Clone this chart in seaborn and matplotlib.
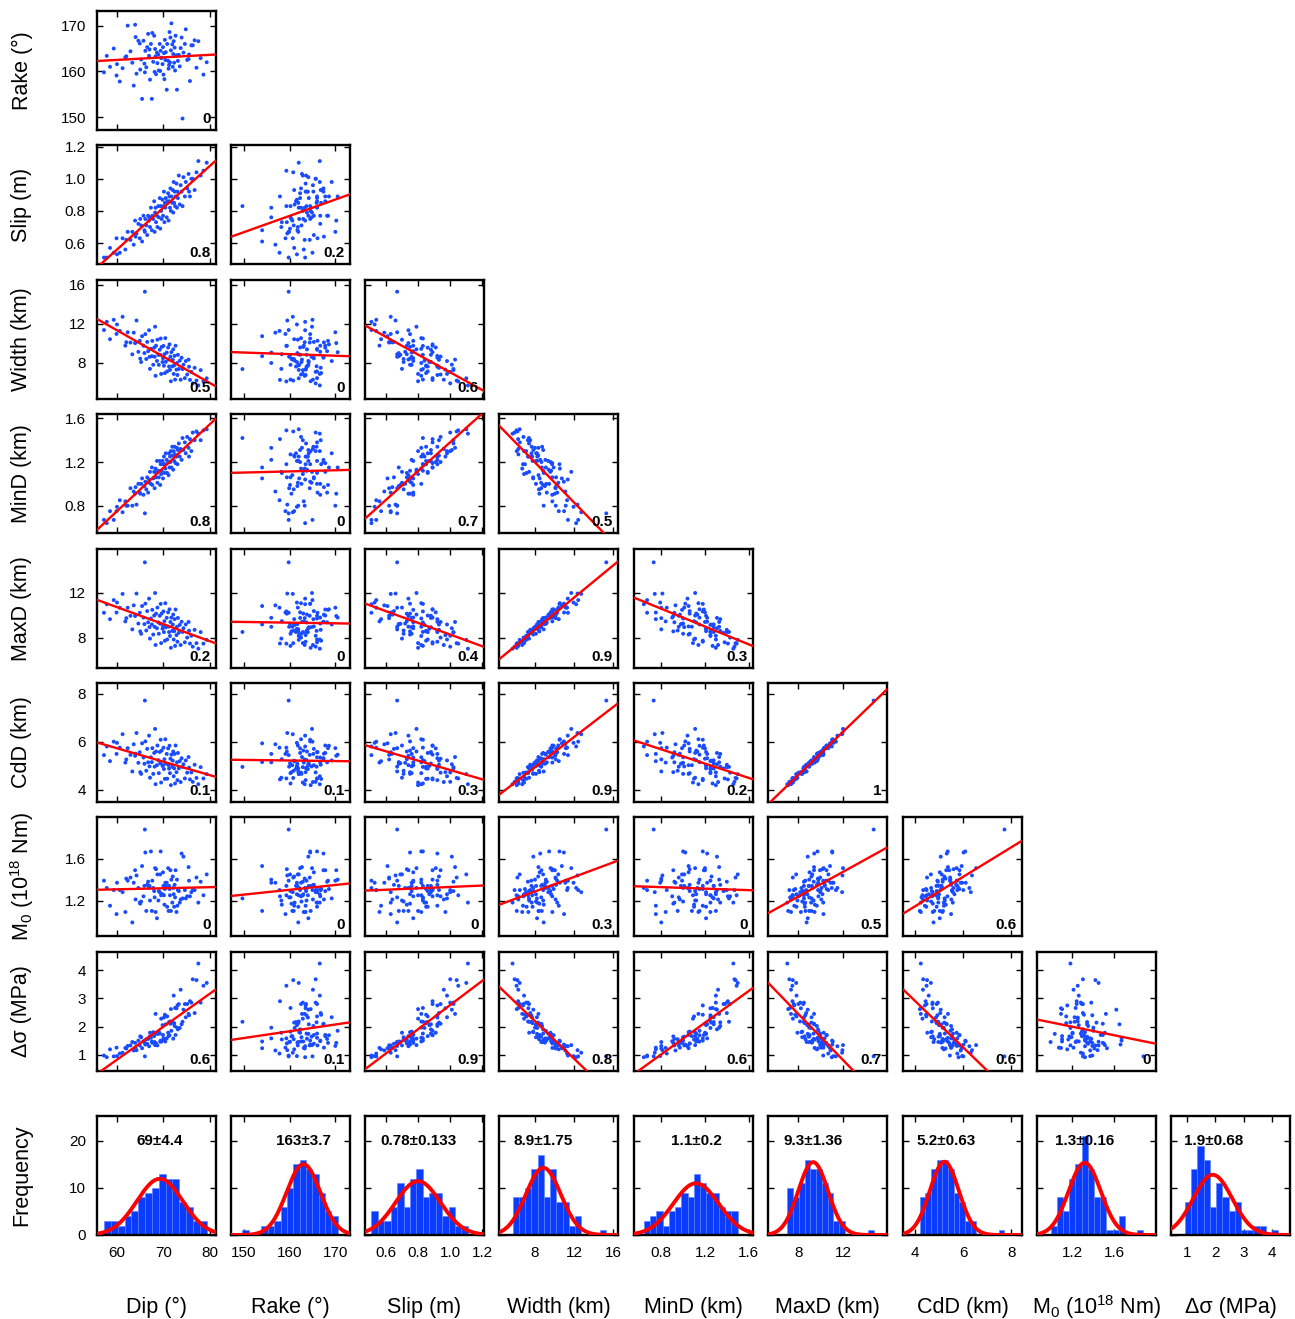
import numpy as np
import matplotlib
matplotlib.use("Agg")
import matplotlib.pyplot as plt
import matplotlib.transforms as mtrans
import seaborn as sns

# ---------------- data (read/estimated from the reference) ----------------
dip = [57.2, 57.8, 58.5, 59.3, 59.9, 60.6, 61.2, 61.8, 62.3, 62.9,
       63.3, 63.6, 63.9, 64.2, 64.6, 64.9, 65.2, 65.4, 65.7, 65.9,
       66.0, 66.1, 66.3, 66.5, 66.7, 66.9, 67.1, 67.3, 67.5, 67.6,
       67.8, 68.0, 68.1, 68.2, 68.3, 68.4, 68.6, 68.7, 68.9, 69.0,
       69.2, 69.3, 69.4, 69.5, 69.6, 69.8, 69.9, 70.0, 70.1, 70.2,
       70.3, 70.4, 70.5, 70.7, 70.8, 71.0, 71.1, 71.2, 71.3, 71.4,
       71.5, 71.6, 71.7, 71.9, 72.0, 72.1, 72.2, 72.3, 72.4, 72.5,
       72.6, 72.8, 72.9, 73.0, 73.1, 73.3, 73.5, 73.7, 73.9, 74.1,
       74.3, 74.6, 74.8, 75.1, 75.4, 75.7, 76.0, 76.3, 76.7, 77.1,
       77.5, 78.0, 78.6, 79.3, 64.0, 67.0, 62.0, 65.0, 75.5, 60.0]
rake = [159.8, 163.4, 161.0, 165.0, 159.1, 157.8, 160.7, 163.1, 170.0, 164.4,
        161.9, 156.9, 170.2, 159.5, 166.7, 166.1, 162.6, 154.0, 166.7, 161.7,
        159.8, 164.5, 160.9, 165.3, 168.2, 163.4, 158.2, 166.0, 154.0, 168.4,
        162.1, 167.8, 159.9, 164.9, 163.3, 159.4, 164.1, 161.8, 163.7, 160.2,
        166.0, 160.1, 164.5, 162.9, 163.0, 161.6, 165.3, 159.3, 164.0, 158.3,
        166.9, 162.5, 164.2, 156.0, 166.0, 162.3, 160.6, 161.4, 168.6, 162.0,
        167.4, 164.6, 170.5, 165.9, 161.0, 163.8, 166.6, 161.9, 165.2, 160.2,
        167.8, 163.5, 156.0, 163.5, 162.3, 163.6, 161.1, 165.1, 167.4, 149.7,
        164.1, 166.0, 169.2, 162.5, 162.7, 157.9, 165.7, 165.7, 166.8, 160.8,
        166.6, 162.9, 159.3, 162.0, 167.5, 164.8, 163.3, 160.4, 163.7, 161.6]
slip = [0.51, 0.51, 0.57, 0.54, 0.63, 0.54, 0.63, 0.56, 0.67, 0.62,
        0.67, 0.59, 0.74, 0.66, 0.72, 0.63, 0.71, 0.61, 0.77, 0.68,
        0.67, 0.75, 0.71, 0.65, 0.77, 0.74, 0.70, 0.82, 0.68, 0.77,
        0.75, 0.86, 0.67, 0.79, 0.82, 0.73, 0.77, 0.70, 0.83, 0.76,
        0.88, 0.69, 0.83, 0.80, 0.75, 0.87, 0.77, 0.83, 0.92, 0.73,
        0.85, 0.82, 0.88, 0.76, 0.86, 0.91, 0.74, 0.86, 0.89, 0.82,
        0.94, 0.80, 0.89, 0.85, 0.93, 0.79, 0.98, 0.85, 0.92, 0.83,
        0.89, 0.97, 0.82, 0.92, 0.88, 1.02, 0.84, 0.96, 0.92, 0.83,
        1.01, 0.89, 0.98, 0.94, 1.03, 0.89, 1.00, 1.00, 0.93, 1.04,
        1.11, 1.02, 1.05, 1.10, 0.64, 0.76, 0.62, 0.75, 0.92, 0.53]
width = [11.37, 12.21, 10.43, 12.42, 10.97, 11.28, 12.73, 9.77, 11.14, 10.09,
         8.88, 11.10, 10.03, 12.35, 9.14, 10.27, 8.09, 10.74, 9.76, 9.01,
         15.30, 10.95, 8.40, 10.15, 9.20, 11.35, 7.39, 9.44, 8.69, 10.26,
         7.81, 9.56, 8.63, 11.71, 6.68, 9.76, 8.20, 10.38, 8.83, 7.80,
         9.35, 8.82, 10.50, 6.87, 9.64, 8.09, 8.47, 9.74, 7.71, 8.89,
         6.96, 10.54, 8.11, 9.06, 7.13, 9.58, 8.35, 7.63, 9.90, 7.28,
         8.65, 6.12, 9.10, 7.65, 8.32, 9.39, 6.87, 7.74, 8.72, 6.29,
         9.76, 7.31, 7.99, 6.76, 8.83, 7.38, 8.23, 6.28, 8.53, 7.37,
         7.82, 6.44, 8.19, 6.81, 8.34, 6.26, 7.08, 5.90, 7.50, 6.19,
         5.69, 7.26, 6.10, 6.42, 10.10, 8.62, 10.12, 8.44, 7.61, 11.94]
mind = [0.67, 0.64, 0.75, 0.67, 0.75, 0.85, 0.74, 0.84, 0.80, 0.96,
        0.80, 0.93, 0.91, 0.81, 1.00, 0.92, 1.00, 1.05, 0.90, 0.98,
        0.73, 1.02, 0.95, 1.06, 0.92, 1.04, 1.11, 1.00, 1.15, 0.99,
        1.05, 1.11, 0.96, 1.11, 1.14, 1.06, 1.21, 1.01, 1.12, 1.06,
        1.21, 0.99, 1.18, 1.09, 1.12, 1.21, 1.05, 1.18, 1.25, 1.10,
        1.18, 1.14, 1.28, 1.22, 1.10, 1.20, 1.08, 1.28, 1.15, 1.25,
        1.20, 1.30, 1.15, 1.34, 1.26, 1.13, 1.30, 1.21, 1.34, 1.27,
        1.19, 1.25, 1.33, 1.18, 1.31, 1.37, 1.25, 1.32, 1.22, 1.42,
        1.31, 1.38, 1.28, 1.43, 1.33, 1.41, 1.30, 1.47, 1.40, 1.48,
        1.46, 1.40, 1.49, 1.50, 0.97, 1.01, 0.80, 0.91, 1.25, 0.79]
maxd = [10.22, 10.98, 9.65, 11.35, 10.24, 10.67, 11.90, 9.45, 10.67, 9.95,
        8.74, 10.88, 9.93, 11.93, 9.26, 10.22, 8.35, 10.82, 9.79, 9.21,
        14.71, 11.03, 8.64, 10.37, 9.37, 11.48, 7.92, 9.71, 9.18, 10.48,
        8.28, 9.97, 8.97, 11.98, 7.35, 10.14, 8.84, 10.68, 9.36, 8.35,
        9.95, 9.24, 11.01, 7.52, 10.15, 8.80, 9.00, 10.34, 8.50, 9.47,
        7.73, 11.07, 8.93, 9.77, 7.84, 10.26, 8.98, 8.50, 10.53, 8.15,
        9.40, 7.10, 9.79, 8.61, 9.17, 10.06, 7.84, 8.58, 9.65, 7.27,
        10.51, 8.23, 8.97, 7.64, 9.76, 8.44, 9.14, 7.35, 9.42, 8.51,
        8.84, 7.59, 9.18, 8.01, 9.40, 7.48, 8.17, 7.20, 8.70, 7.51,
        7.02, 8.50, 7.47, 7.81, 10.05, 8.94, 9.74, 8.56, 8.62, 11.13]
cdd = [5.45, 5.81, 5.20, 6.01, 5.50, 5.76, 6.32, 5.14, 5.74, 5.46,
       4.77, 5.90, 5.42, 6.37, 5.13, 5.57, 4.67, 5.94, 5.35, 5.09,
       7.72, 6.02, 4.80, 5.71, 5.15, 6.26, 4.51, 5.36, 5.16, 5.74,
       4.67, 5.54, 4.97, 6.54, 4.24, 5.60, 5.03, 5.85, 5.24, 4.70,
       5.58, 5.11, 6.09, 4.31, 5.64, 5.00, 5.03, 5.76, 4.87, 5.28,
       4.46, 6.11, 5.10, 5.50, 4.47, 5.73, 5.03, 4.89, 5.84, 4.70,
       5.30, 4.20, 5.47, 4.97, 5.22, 5.60, 4.57, 4.90, 5.50, 4.27,
       5.85, 4.74, 5.15, 4.41, 5.54, 4.90, 5.20, 4.33, 5.32, 4.96,
       5.07, 4.48, 5.23, 4.72, 5.37, 4.44, 4.73, 4.34, 5.05, 4.50,
       4.24, 4.95, 4.48, 4.66, 5.51, 4.98, 5.27, 4.74, 4.93, 5.96]
m0 = [1.39, 1.32, 1.15, 1.30, 1.07, 1.30, 1.28, 1.09, 1.39, 1.42,
      0.99, 1.37, 1.49, 1.44, 1.32, 1.18, 1.19, 1.53, 1.24, 1.34,
      1.88, 1.66, 1.10, 1.35, 1.38, 1.32, 1.20, 1.67, 1.10, 1.39,
      1.32, 1.29, 1.23, 1.51, 1.09, 1.50, 1.03, 1.45, 1.20, 1.29,
      1.28, 1.45, 1.67, 1.25, 1.26, 1.26, 1.47, 1.34, 1.25, 1.16,
      1.31, 1.37, 1.34, 1.37, 1.14, 1.51, 1.10, 1.34, 1.31, 1.25,
      1.49, 1.10, 1.40, 1.18, 1.43, 1.32, 1.26, 1.14, 1.35, 1.23,
      1.49, 1.09, 1.40, 1.15, 1.30, 1.29, 1.18, 1.21, 1.65, 1.22,
      1.62, 1.30, 1.22, 1.24, 1.52, 1.24, 1.28, 1.30, 1.30, 1.42,
      1.18, 1.38, 1.25, 1.45, 1.21, 1.34, 1.41, 1.17, 1.39, 1.37]
dsig = [0.97, 0.91, 1.19, 0.94, 1.25, 1.04, 1.07, 1.24, 1.31, 1.33,
        1.45, 1.15, 1.42, 1.16, 1.50, 1.33, 1.62, 1.23, 1.48, 1.43,
        0.94, 1.36, 1.55, 1.39, 1.56, 1.30, 1.78, 1.60, 1.47, 1.42,
        1.80, 1.66, 1.45, 1.34, 2.45, 1.40, 1.74, 1.33, 1.75, 1.82,
        1.75, 1.46, 1.50, 2.28, 1.47, 2.05, 1.70, 1.58, 2.32, 1.54,
        2.42, 1.47, 2.08, 1.58, 2.36, 1.78, 1.66, 2.16, 1.69, 2.18,
        2.10, 2.62, 1.85, 2.15, 2.14, 1.57, 3.10, 2.12, 2.02, 2.66,
        1.70, 2.65, 1.96, 2.75, 1.90, 2.80, 1.95, 3.31, 2.08, 2.17,
        2.60, 2.80, 2.33, 2.80, 2.45, 2.90, 2.85, 3.68, 2.48, 3.65,
        4.24, 2.85, 3.45, 3.55, 1.25, 1.64, 1.22, 1.65, 2.40, 0.95]

var_keys = ["Dip", "Rake", "Slip", "Width", "MinD", "MaxD", "CdD", "M0", "dsig"]
var_labels = ["Dip (°)", "Rake (°)", "Slip (m)", "Width (km)", "MinD (km)",
              "MaxD (km)", "CdD (km)", r"M$_0$ (10$^{18}$ Nm)", "Δσ (MPa)"]
corr_labels = [
    ["0"],
    ["0.8", "0.2"],
    ["0.5", "0", "0.6"],
    ["0.8", "0", "0.7", "0.5"],
    ["0.2", "0", "0.4", "0.9", "0.3"],
    ["0.1", "0.1", "0.3", "0.9", "0.2", "1"],
    ["0", "0", "0", "0.3", "0", "0.5", "0.6"],
    ["0.6", "0.1", "0.9", "0.8", "0.6", "0.7", "0.6", "0"],
]
stat_labels = ["69±4.4", "163±3.7", "0.78±0.133", "8.9±1.75", "1.1±0.2",
               "9.3±1.36", "5.2±0.63", "1.3±0.16", "1.9±0.68"]
tick_vals = {"Dip": [60, 70, 80], "Rake": [150, 160, 170],
             "Slip": [0.6, 0.8, 1.0, 1.2], "Width": [8, 12, 16],
             "MinD": [0.8, 1.2, 1.6], "MaxD": [8, 12], "CdD": [4, 6, 8],
             "M0": [1.2, 1.6], "dsig": [1, 2, 3, 4]}
tick_text = {"Dip": ["60", "70", "80"], "Rake": ["150", "160", "170"],
             "Slip": ["0.6", "0.8", "1.0", "1.2"], "Width": ["8", "12", "16"],
             "MinD": ["0.8", "1.2", "1.6"], "MaxD": ["8", "12"],
             "CdD": ["4", "6", "8"], "M0": ["1.2", "1.6"],
             "dsig": ["1", "2", "3", "4"]}
freq_ticks = [0, 10, 20]

data = {"Dip": np.array(dip), "Rake": np.array(rake), "Slip": np.array(slip),
        "Width": np.array(width), "MinD": np.array(mind), "MaxD": np.array(maxd),
        "CdD": np.array(cdd), "M0": np.array(m0), "dsig": np.array(dsig)}

# ---------------- styling / layout ----------------
sns.set_style("ticks")
plt.rcParams["font.family"] = ["Liberation Sans", "DejaVu Sans"]
plt.rcParams["mathtext.fontset"] = "custom"
plt.rcParams["mathtext.rm"] = "Liberation Sans"
plt.rcParams["mathtext.it"] = "Liberation Sans:italic"
plt.rcParams["mathtext.bf"] = "Liberation Sans:bold"
plt.rcParams["text.color"] = "black"
plt.rcParams["xtick.color"] = "black"
plt.rcParams["ytick.color"] = "black"
plt.rcParams["xtick.labelcolor"] = "black"
plt.rcParams["ytick.labelcolor"] = "black"

limits = {"Dip": (55.7, 81.3), "Rake": (147.2, 173.2), "Slip": (0.47, 1.21),
          "Width": (4.3, 16.5), "MinD": (0.55, 1.64), "MaxD": (5.3, 15.9),
          "CdD": (3.5, 8.45), "M0": (0.86, 2.0), "dsig": (0.42, 4.65)}

W, H = 1295, 1319
fig = plt.figure(figsize=(W / 100, H / 100), dpi=100)
col_left = [97, 231, 365, 499, 634, 768, 903, 1037, 1171]
row_top = [11, 145, 280, 414, 549, 683, 817, 952]
hist_top = 1116
pw, ph = 119, 119

PT_COLOR = "#1a4cff"
BAR_COLOR = "#0a3cff"
TICK_FS = 11
LAB_FS = 15.5
NUM_FS = 11


def make_ax(left, top):
    return fig.add_axes([left / W, 1 - (top + ph) / H, pw / W, ph / H])


def style_ax(ax):
    for sp in ax.spines.values():
        sp.set_visible(True)
        sp.set_linewidth(1.7)
        sp.set_color("black")
    ax.tick_params(direction="in", length=4.2, width=1, top=True, right=True,
                   labelsize=TICK_FS, pad=8, colors="black")


n_rows = len(var_keys) - 1
for i in range(n_rows):
    yk = var_keys[i + 1]
    for j in range(i + 1):
        xk = var_keys[j]
        ax = make_ax(col_left[j], row_top[i])
        ax.set_xlim(*limits[xk])
        ax.set_ylim(*limits[yk])
        sns.scatterplot(x=data[xk], y=data[yk], ax=ax, s=8, color=PT_COLOR,
                        edgecolor="none", linewidth=0, zorder=2)
        ax.set_xlim(*limits[xk])
        sns.regplot(x=data[xk], y=data[yk], ax=ax, scatter=False, ci=None,
                    truncate=False, color="red",
                    line_kws={"lw": 1.7, "zorder": 3})
        ax.set_xlim(*limits[xk])
        ax.set_ylim(*limits[yk])
        ax.set_xticks(tick_vals[xk])
        ax.set_yticks(tick_vals[yk])
        ax.set_xticklabels([])
        if j == 0:
            ax.set_yticklabels(tick_text[yk])
        else:
            ax.set_yticklabels([])
        ax.set_xlabel("")
        ax.set_ylabel("")
        style_ax(ax)
        ax.text(0.955, 0.03, corr_labels[i][j], transform=ax.transAxes,
                ha="right", va="bottom", fontsize=NUM_FS, fontweight="bold",
                zorder=10)
    fig.text(22 / W, 1 - (row_top[i] + ph / 2) / H, var_labels[i + 1],
             rotation=90, ha="center", va="center", fontsize=LAB_FS)

# histogram row
nbins = 15
for j, k in enumerate(var_keys):
    ax = make_ax(col_left[j], hist_top)
    vals = data[k]
    lo, hi = limits[k]
    sns.histplot(x=vals, bins=nbins, ax=ax, color=BAR_COLOR, alpha=1,
                 edgecolor="#5c80ff", linewidth=0.4, stat="count")
    mu, sd = vals.mean(), vals.std(ddof=1)
    bw = (vals.max() - vals.min()) / nbins
    xs = np.linspace(lo, hi, 300)
    ys = len(vals) * bw * np.exp(-0.5 * ((xs - mu) / sd) ** 2) / (sd * np.sqrt(2 * np.pi))
    sns.lineplot(x=xs, y=ys, ax=ax, color="red", lw=2.8, zorder=4)
    ax.set_xlim(lo, hi)
    ax.set_ylim(0, 25.3)
    ax.set_xticks(tick_vals[k])
    ax.set_xticklabels(tick_text[k])
    ax.set_yticks(freq_ticks)
    if j == 0:
        ax.set_yticklabels([str(v) for v in freq_ticks])
    else:
        ax.set_yticklabels([])
    ax.set_xlabel("")
    ax.set_ylabel("")
    style_ax(ax)
    frac = min(max((mu - lo) / (hi - lo), 0.36), 0.64)
    trans = mtrans.blended_transform_factory(ax.transAxes, ax.transData)
    ax.text(frac, 20, stat_labels[j], transform=trans, ha="center",
            va="center", fontsize=NUM_FS, fontweight="bold", zorder=10)
    fig.text((col_left[j] + pw / 2) / W, 1 - 1307 / H, var_labels[j],
             ha="center", va="center", fontsize=LAB_FS)

fig.text(22 / W, 1 - (hist_top + ph / 2) / H, "Frequency", rotation=90,
         ha="center", va="center", fontsize=LAB_FS)

fig.savefig("out.png", dpi=100)
